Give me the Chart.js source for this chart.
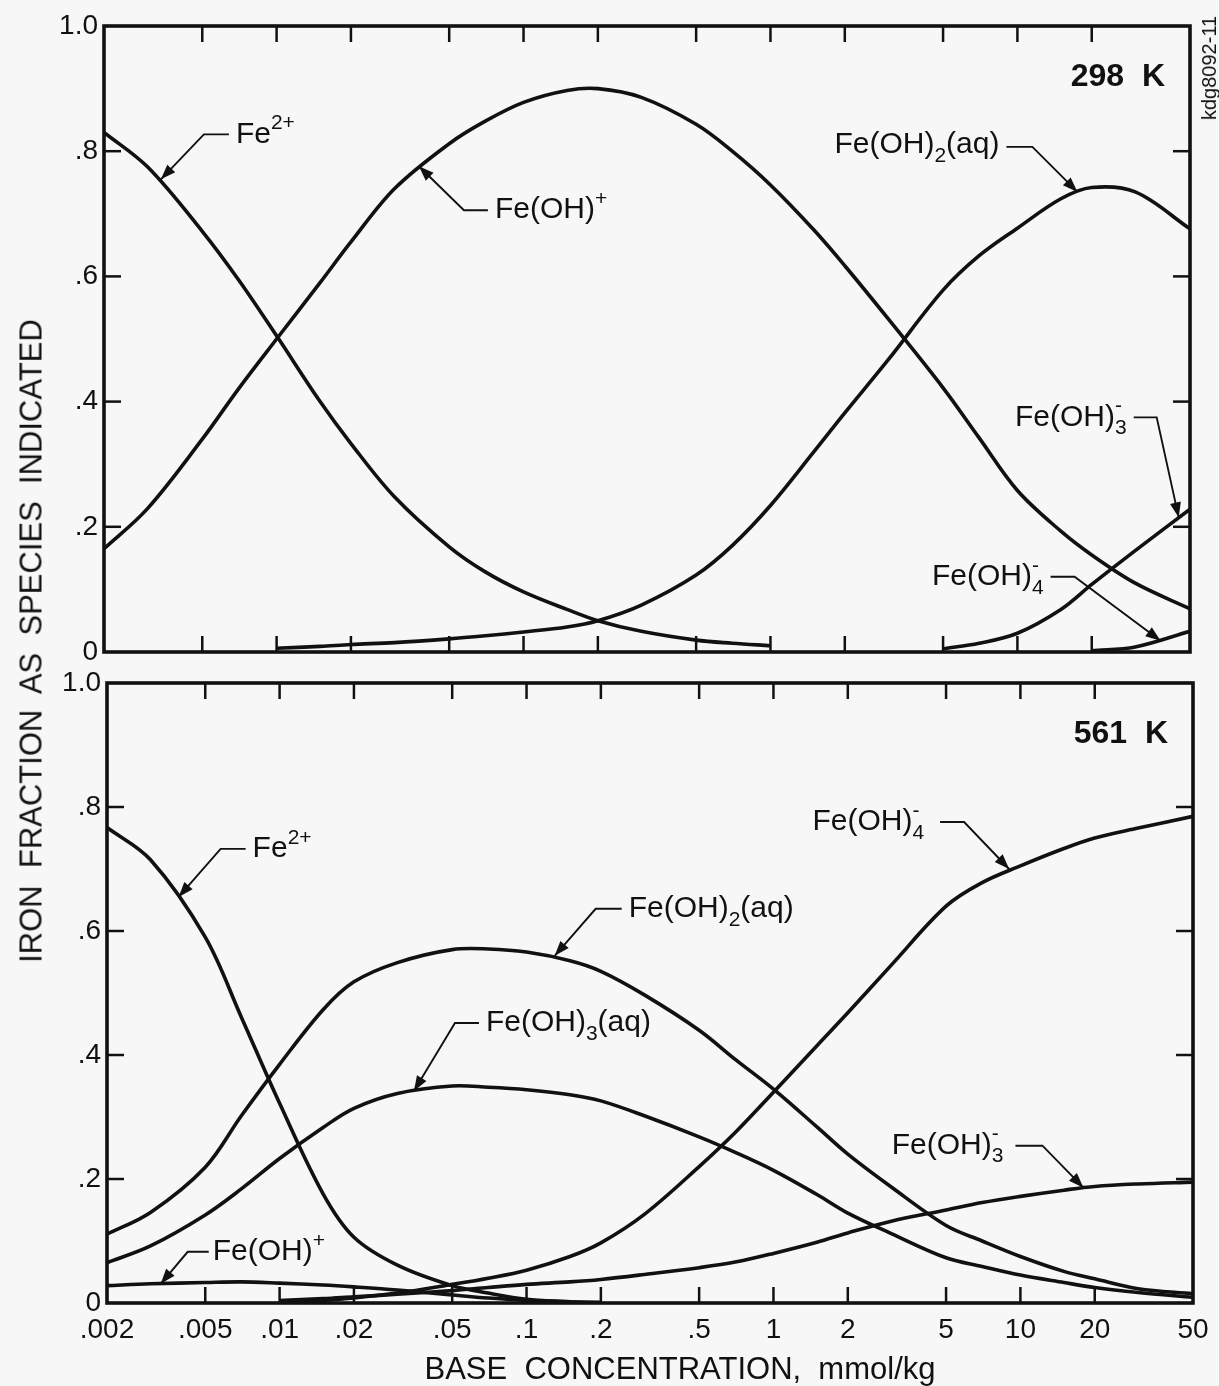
<!DOCTYPE html>
<html>
<head>
<meta charset="utf-8">
<script src="https://cdn.jsdelivr.net/npm/chart.js@4.4.0/dist/chart.umd.min.js"></script>
<style>
  body { margin: 0; background: #f7f7f7; }
  #wrap { position: relative; width: 1219px; height: 1386px; font-family: 'Liberation Sans', Arial, sans-serif; color: #111; }
  canvas { position: absolute; left: 0; }
  #topChart { top: 0; }
  #bottomChart { top: 660px; }
  .txt { position: absolute; white-space: pre; line-height: 1; }
  #ytitle { left: 31px; top: 641px; font-size: 31px; transform: translate(-50%, -50%) rotate(-90deg); }
  #xtitle { left: 680px; top: 1368px; font-size: 31px; transform: translate(-50%, -50%); }
  #tag { left: 1209px; top: 68px; font-size: 20px; transform: translate(-50%, -50%) rotate(-90deg); }
</style>
</head>
<body>
<div id="wrap">
  <canvas id="topChart" width="1219" height="680"></canvas>
  <canvas id="bottomChart" width="1219" height="726"></canvas>
  <div class="txt" id="ytitle">IRON  FRACTION  AS  SPECIES  INDICATED</div>
  <div class="txt" id="xtitle">BASE  CONCENTRATION,  mmol/kg</div>
  <div class="txt" id="tag">kdg8092-11</div>
</div>
<script>
// base concentration, mmol/kg
const conc = [0.002, 0.003, 0.005, 0.007, 0.01, 0.015, 0.02, 0.03, 0.05, 0.07, 0.1, 0.15, 0.2, 0.3, 0.5, 0.7, 1, 1.5, 2, 3, 5, 7, 10, 15, 20, 30, 50];

const xTickValues = [0.002, 0.005, 0.01, 0.02, 0.05, 0.1, 0.2, 0.5, 1, 2, 5, 10, 20, 50];
const xTickLabels = ['.002', '.005', '.01', '.02', '.05', '.1', '.2', '.5', '1', '2', '5', '10', '20', '50'];
const yTickValues = [0, 0.2, 0.4, 0.6, 0.8, 1.0];
const yTickLabels = ['0', '.2', '.4', '.6', '.8', '1.0'];

// 298 K
const fe2_298   = [0.83, 0.775, 0.672, 0.595, 0.505, 0.40, 0.333, 0.248, 0.168, 0.128, 0.096, 0.068, 0.05, 0.033, 0.019, 0.014, 0.01, null, null, null, null, null, null, null, null, null, null];
const feoh_298  = [0.165, 0.229, 0.34, 0.42, 0.50, 0.59, 0.655, 0.74, 0.812, 0.848, 0.878, 0.897, 0.90, 0.886, 0.843, 0.80, 0.746, 0.674, 0.617, 0.532, 0.422, 0.342, 0.258, 0.193, 0.155, 0.11, 0.069];
const feoh2_298 = [null, null, null, null, 0.006, 0.009, 0.012, 0.015, 0.021, 0.026, 0.032, 0.04, 0.05, 0.075, 0.123, 0.17, 0.234, 0.32, 0.382, 0.467, 0.578, 0.633, 0.677, 0.724, 0.742, 0.735, 0.676];
const feoh3m_298 = [null, null, null, null, null, null, null, null, null, null, null, null, null, null, null, null, null, null, null, null, 0.005, 0.014, 0.03, 0.068, 0.108, 0.162, 0.228];
const feoh4m_298 = [null, null, null, null, null, null, null, null, null, null, null, null, null, null, null, null, null, null, null, null, null, null, null, null, 0.002, 0.008, 0.033];

// 561 K
const fe2_561   = [0.767, 0.715, 0.59, 0.461, 0.322, 0.176, 0.106, 0.061, 0.028, 0.016, 0.006, 0.002, null, null, null, null, null, null, null, null, null, null, null, null, null, null, null];
const feoh_561  = [0.028, 0.031, 0.033, 0.034, 0.032, 0.029, 0.026, 0.021, 0.013, 0.008, 0.004, 0.002, 0.001, null, null, null, null, null, null, null, null, null, null, null, null, null, null];
const feoh2_561 = [0.111, 0.146, 0.219, 0.302, 0.385, 0.473, 0.518, 0.549, 0.57, 0.571, 0.566, 0.552, 0.535, 0.497, 0.44, 0.393, 0.345, 0.284, 0.24, 0.187, 0.125, 0.1, 0.075, 0.051, 0.039, 0.023, 0.015];
const feoh3_561 = [0.065, 0.092, 0.142, 0.184, 0.233, 0.283, 0.314, 0.338, 0.35, 0.348, 0.344, 0.336, 0.326, 0.302, 0.268, 0.243, 0.214, 0.175, 0.145, 0.112, 0.073, 0.059, 0.045, 0.033, 0.025, 0.017, 0.009];
const feoh4m_561 = [null, null, null, null, 0.002, 0.004, 0.008, 0.016, 0.03, 0.04, 0.053, 0.075, 0.097, 0.143, 0.22, 0.275, 0.34, 0.415, 0.468, 0.545, 0.64, 0.678, 0.705, 0.733, 0.75, 0.766, 0.785];
const feoh3m_561 = [null, null, null, null, 0.004, 0.007, 0.01, 0.014, 0.02, 0.025, 0.03, 0.034, 0.038, 0.046, 0.057, 0.066, 0.08, 0.098, 0.113, 0.132, 0.15, 0.162, 0.172, 0.182, 0.188, 0.192, 0.195];

// callouts: tip in data units, leader offsets in pixels
const notes298 = [
  { parts: [{ t: 'Fe' }, { sup: '2+' }], tip: [0.0034, 0.755], elbow: [43, -45], run: 25 },
  { parts: [{ t: 'Fe(OH)' }, { sup: '+' }], tip: [0.0377, 0.776], elbow: [45, 44], run: 24 },
  { parts: [{ t: 'Fe(OH)' }, { sub: '2' }, { t: '(aq)' }], tip: [17.5, 0.735], elbow: [-45, -45], run: -26, dy: -2 },
  { parts: [{ t: 'Fe(OH)' }, { sub: '3', sup: '-' }], tip: [45, 0.215], elbow: [-22, -100], run: -23 },
  { parts: [{ t: 'Fe(OH)' }, { sub: '4', sup: '-' }], tip: [38, 0.018], elbow: [-86, -64], run: -24 }
];
const notes561 = [
  { parts: [{ t: 'Fe' }, { sup: '2+' }], tip: [0.0039, 0.655], elbow: [42, -48], run: 25 },
  { parts: [{ t: 'Fe(OH)' }, { sub: '2' }, { t: '(aq)' }], tip: [0.13, 0.56], elbow: [41, -47], run: 26 },
  { parts: [{ t: 'Fe(OH)' }, { sub: '3' }, { t: '(aq)' }], tip: [0.035, 0.342], elbow: [41, -68], run: 24 },
  { parts: [{ t: 'Fe(OH)' }, { sup: '+' }], tip: [0.0033, 0.031], elbow: [27, -32], run: 21, gap: 4 },
  { parts: [{ t: 'Fe(OH)' }, { sub: '4', sup: '-' }], tip: [9, 0.70], elbow: [-45, -47], run: -24, gap: 16 },
  { parts: [{ t: 'Fe(OH)' }, { sub: '3', sup: '-' }], tip: [18, 0.186], elbow: [-41, -42], run: -27, gap: 12 }
];

const FONT = "'Liberation Sans', Arial, sans-serif";
const INK = '#111';

function series(vals) {
  const pts = [];
  vals.forEach((v, i) => { if (v !== null) pts.push({ x: conc[i], y: v }); });
  return {
    data: pts,
    borderColor: INK,
    borderWidth: 3.6,
    pointRadius: 0,
    fill: false,
    tension: 0.35
  };
}

function partsWidth(ctx, parts) {
  let w = 0;
  parts.forEach(p => {
    if (p.t) { ctx.font = '30px ' + FONT; w += ctx.measureText(p.t).width; }
    else {
      ctx.font = '21px ' + FONT;
      w += Math.max(p.sub ? ctx.measureText(p.sub).width : 0, p.sup ? ctx.measureText(p.sup).width : 0);
    }
  });
  return w;
}

function drawParts(ctx, parts, x, y) {
  ctx.textAlign = 'left';
  ctx.textBaseline = 'middle';
  parts.forEach(p => {
    if (p.t) {
      ctx.font = '30px ' + FONT;
      ctx.fillText(p.t, x, y);
      x += ctx.measureText(p.t).width;
    } else {
      ctx.font = '21px ' + FONT;
      let w = 0;
      if (p.sub) { ctx.fillText(p.sub, x, y + 11); w = ctx.measureText(p.sub).width; }
      if (p.sup) { ctx.fillText(p.sup, x, y - 11); w = Math.max(w, ctx.measureText(p.sup).width); }
      x += w;
    }
  });
}

function drawCallout(ctx, chart, c) {
  const tx = chart.scales.x.getPixelForValue(c.tip[0]);
  const ty = chart.scales.y.getPixelForValue(c.tip[1]);
  const ex = tx + c.elbow[0], ey = ty + c.elbow[1];
  const hx = ex + c.run;
  ctx.lineWidth = 1.9;
  ctx.beginPath();
  ctx.moveTo(hx, ey);
  ctx.lineTo(ex, ey);
  ctx.lineTo(tx, ty);
  ctx.stroke();
  const ang = Math.atan2(ty - ey, tx - ex);
  const L = 15, W = 5.5;
  const bx = tx - L * Math.cos(ang), by = ty - L * Math.sin(ang);
  ctx.beginPath();
  ctx.moveTo(tx, ty);
  ctx.lineTo(bx + W * Math.sin(ang), by - W * Math.cos(ang));
  ctx.lineTo(bx - W * Math.sin(ang), by + W * Math.cos(ang));
  ctx.closePath();
  ctx.fill();
  const gap = c.gap || 7;
  const w = partsWidth(ctx, c.parts);
  const lx = c.run > 0 ? hx + gap : hx - gap - w;
  drawParts(ctx, c.parts, lx, ey + (c.dy || 0));
}

function decor(label, notes) {
  return {
    id: 'decor',
    afterDatasetsDraw(chart) {
      const { ctx, chartArea: a, scales: { x, y } } = chart;
      ctx.save();
      ctx.strokeStyle = INK;
      ctx.fillStyle = INK;
      ctx.lineWidth = 2.5;
      const seg = (x1, y1, x2, y2) => { ctx.beginPath(); ctx.moveTo(x1, y1); ctx.lineTo(x2, y2); ctx.stroke(); };
      xTickValues.slice(1, -1).forEach(v => {
        const px = x.getPixelForValue(v);
        seg(px, a.top, px, a.top + 16);
        seg(px, a.bottom, px, a.bottom - 16);
      });
      yTickValues.slice(1, -1).forEach(v => {
        const py = y.getPixelForValue(v);
        seg(a.left, py, a.left + 17, py);
        seg(a.right, py, a.right - 17, py);
      });
      ctx.lineWidth = 3.6;
      ctx.strokeRect(a.left, a.top, a.right - a.left, a.bottom - a.top);

      notes.forEach(c => drawCallout(ctx, chart, c));

      ctx.font = 'bold 32px ' + FONT;
      ctx.textAlign = 'right';
      ctx.textBaseline = 'alphabetic';
      ctx.fillText(label, a.right - 25, a.top + 60);
      ctx.restore();
    }
  };
}

function makeChart(id, datasets, opts) {
  return new Chart(document.getElementById(id), {
    type: 'line',
    data: { datasets: datasets },
    options: {
      responsive: false,
      animation: false,
      layout: { padding: opts.padding },
      plugins: { legend: { display: false }, tooltip: { enabled: false } },
      scales: {
        x: {
          type: 'logarithmic',
          min: 0.002,
          max: 50,
          display: opts.showX,
          grid: { display: false, drawTicks: false },
          border: { display: false },
          afterBuildTicks: s => { s.ticks = xTickValues.map(v => ({ value: v })); },
          afterFit: s => { s.height = opts.xHeight; },
          ticks: {
            autoSkip: false,
            maxRotation: 0,
            padding: 10,
            color: INK,
            font: { family: FONT, size: 28 },
            callback: (v, i) => xTickLabels[i]
          }
        },
        y: {
          type: 'linear',
          min: 0,
          max: 1,
          grid: { display: false, drawTicks: false },
          border: { display: false },
          afterBuildTicks: s => { s.ticks = yTickValues.map(v => ({ value: v })); },
          afterFit: s => { s.width = opts.yWidth; },
          ticks: {
            padding: 6,
            color: INK,
            font: { family: FONT, size: 28 },
            callback: (v, i) => yTickLabels[i]
          }
        }
      }
    },
    plugins: [decor(opts.label, opts.notes)]
  });
}

makeChart('topChart',
  [fe2_298, feoh_298, feoh2_298, feoh3m_298, feoh4m_298].map(series),
  { padding: { top: 26, right: 29, bottom: 28, left: 0 }, yWidth: 104, xHeight: 0, showX: false, label: '298  K', notes: notes298 });

makeChart('bottomChart',
  [fe2_561, feoh_561, feoh2_561, feoh3_561, feoh4m_561, feoh3m_561].map(series),
  { padding: { top: 23, right: 26, bottom: 38, left: 0 }, yWidth: 107, xHeight: 45, showX: true, label: '561  K', notes: notes561 });
</script>
</body>
</html>
